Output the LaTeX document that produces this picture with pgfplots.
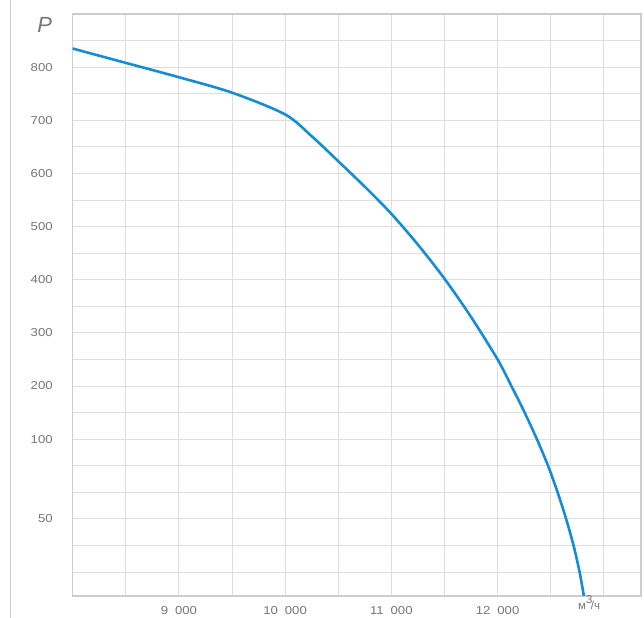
\documentclass[border=0pt]{standalone}
\usepackage{pgfplots}
\pgfplotsset{compat=1.18}
\usepackage{graphicx}
\usepackage{fontspec}
\setmainfont{Liberation Sans}
\definecolor{curve}{RGB}{22,140,212}
\definecolor{gridc}{RGB}{222,222,222}
\definecolor{axisc}{RGB}{205,205,205}
\definecolor{labc}{RGB}{118,118,118}
% wide, slightly stretched tick numbers as in the reference
\newcommand\tl[1]{\scalebox{1.15}[1]{#1}}
\newcommand\thou[1]{\tl{#1\hspace{6bp}000}}
\begin{document}
\begin{tikzpicture}
\begin{axis}[
    scale only axis,
    width=568.3bp, height=582bp,
    xmin=8000, xmax=13350,
    ymin=-195, ymax=900,
    xtick={9000,10000,11000,12000},
    xticklabels={\thou{9},\thou{10},\thou{11},\thou{12}},
    minor xtick={8500,9500,10500,11500,12500,13000},
    ytick={-50,100,200,300,400,500,600,700,800},
    yticklabels={\tl{50},\tl{100},\tl{200},\tl{300},\tl{400},\tl{500},\tl{600},\tl{700},\tl{800}},
    minor ytick={-150,-100,0,50,150,250,350,450,550,650,750,850},
    grid=both,
    major grid style={draw=gridc, line width=1bp},
    minor grid style={draw=gridc, line width=1bp},
    major tick length=0pt, minor tick length=0pt,
    axis line style={draw=axisc, line width=1.3bp},
    tick label style={font=\fontsize{11.5}{13}\selectfont, text=labc},
    yticklabel style={xshift=-16.5bp},
    xticklabel style={yshift=-7bp},
    xlabel={\fontsize{11.5}{13}\selectfont м\raisebox{6.5bp}{3}\kern-1.5bp/ч},
    xlabel style={at={(rel axis cs:0.889,0)}, anchor=base west, text=labc, inner sep=0pt, yshift=-14bp},
    ylabel={\fontsize{22}{24}\selectfont\itshape P},
    ylabel style={at={(rel axis cs:0,1)}, rotate=-90, anchor=center, text=labc, xshift=-28bp, yshift=-11bp},
    clip=false,
  ]
  \addplot[curve, line width=2.6bp, smooth] coordinates {
    (8000,835) (8500,808) (9000,781) (9500,752) (10000,711) (10250,670)
    (10500,623) (10750,575) (11000,524) (11250,466) (11500,402) (11750,330)
    (12000,250) (12130,200) (12255,150) (12370,100) (12475,50) (12565,0)
    (12645,-50) (12715,-100) (12772,-150) (12812,-195)
  };
\end{axis}
\draw[axisc, line width=1.5bp] ([xshift=-62bp, yshift=-22bp]current axis.south west) -- ([xshift=-62bp, yshift=14bp]current axis.north west);
\pgfresetboundingbox
\useasboundingbox ([xshift=-72.7bp, yshift=-22bp]current axis.south west) rectangle ([xshift=3bp, yshift=14bp]current axis.north east);
\end{tikzpicture}
\end{document}
